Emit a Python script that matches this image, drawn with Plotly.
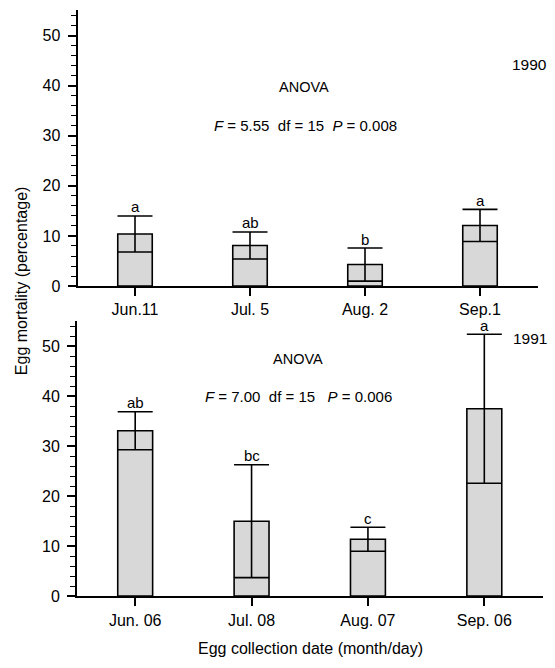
import plotly.graph_objects as go

# ---- data ----
dates_1990 = ["Jun.11", "Jul. 5", "Aug. 2", "Sep.1"]
mean_1990 = [10.4, 8.1, 4.3, 12.1]
se_1990 = [3.6, 2.7, 3.3, 3.2]
letters_1990 = ["a", "ab", "b", "a"]

dates_1991 = ["Jun. 06", "Jul. 08", "Aug. 07", "Sep. 06"]
mean_1991 = [33.1, 15.0, 11.4, 37.5]
se_1991 = [3.8, 11.3, 2.4, 14.9]
letters_1991 = ["ab", "bc", "c", "a"]

y_ticks = [0, 10, 20, 30, 40, 50]

W, H = 555, 668
FONT = "Liberation Sans, Arial, Helvetica, sans-serif"
BAR_FILL = "#d8d8d8"

fig = go.Figure()

def add_panel(cats, means, ses, xa, ya):
    fig.add_trace(go.Bar(
        x=cats, y=means, xaxis=xa, yaxis=ya, width=0.3,
        marker=dict(color=BAR_FILL, line=dict(color="black", width=1.6)),
        error_y=dict(type="data", array=ses, symmetric=True, visible=True,
                     color="black", thickness=1.6, width=17.5),
        showlegend=False, hoverinfo="skip",
    ))

add_panel(dates_1990, mean_1990, se_1990, "x", "y")
add_panel(dates_1991, mean_1991, se_1991, "x2", "y2")

def xaxis_cfg(domain, anchor, cats, standoff):
    return dict(domain=domain, anchor=anchor, type="category",
                categoryorder="array", categoryarray=cats,
                range=[-0.5, 3.5], showline=True, linewidth=2, linecolor="black",
                ticks="outside", ticklen=8, tickwidth=1.5, tickcolor="black",
                showgrid=False, zeroline=False, ticklabelstandoff=standoff,
                tickfont=dict(family=FONT, size=16, color="black"))

def yaxis_cfg(domain, anchor):
    return dict(domain=domain, anchor=anchor, range=[0, 55],
                tickmode="array", tickvals=y_ticks,
                showline=True, linewidth=2, linecolor="black",
                ticks="outside", ticklen=8, tickwidth=1.5, tickcolor="black",
                minor=dict(dtick=2, tick0=0, ticks="outside", ticklen=5,
                           tickwidth=1.2, tickcolor="black", showgrid=False),
                showgrid=False, zeroline=False, ticklabelstandoff=4,
                tickfont=dict(family=FONT, size=16, color="black"))

def px_x(p):
    return p / W

def px_y(p):
    return 1 - p / H

fig.update_layout(
    width=W, height=H, margin=dict(l=0, r=0, t=0, b=0),
    paper_bgcolor="white", plot_bgcolor="rgba(0,0,0,0)",
    font=dict(family=FONT, size=15, color="black"),
    bargap=0.7,
    xaxis=xaxis_cfg([px_x(77.5), px_x(537.5)], "y", dates_1990, 0),
    yaxis=yaxis_cfg([px_y(290), px_y(10.6)], "x"),
    xaxis2=xaxis_cfg([px_x(77), px_x(542.5)], "y2", dates_1991, 1),
    yaxis2=yaxis_cfg([px_y(604.3), px_y(325.7)], "x2"),
)

ann = []
for cats, means, ses, letters, xr, yr in [
    (dates_1990, mean_1990, se_1990, letters_1990, "x", "y"),
    (dates_1991, mean_1991, se_1991, letters_1991, "x2", "y2"),
]:
    for c, m, s, l in zip(cats, means, ses, letters):
        ann.append(dict(x=c, y=m + s, xref=xr, yref=yr, text=l, showarrow=False,
                        yanchor="bottom", yshift=-0.5, borderpad=0,
                        font=dict(size=15)))

NB = "\u00a0"
def paper_text(text, x, y, size=15):
    ann.append(dict(x=px_x(x), y=px_y(y), xref="paper", yref="paper", text=text,
                    showarrow=False, xanchor="center", yanchor="middle",
                    font=dict(size=size)))

paper_text("ANOVA", 304, 88, 14.5)
paper_text(f"<i>F</i> = 5.55{NB}{NB}df = 15{NB}{NB}<i>P</i> = 0.008", 305, 127)
paper_text("1990", 529.5, 65, 15.5)
paper_text("ANOVA", 298, 364, 14.5)
paper_text(f"<i>F</i> = 7.00{NB}{NB}df = 15{NB}{NB}{NB}<i>P</i> = 0.006", 298, 402)
paper_text("1991", 530, 343, 15.5)
paper_text("Egg collection date (month/day)", 310, 657, 16)
ann.append(dict(x=px_x(21), y=px_y(285), xref="paper", yref="paper",
                text="Egg mortality (percentage)", textangle=-90, showarrow=False,
                xanchor="center", yanchor="middle", font=dict(size=16)))

fig.update_layout(annotations=ann)
fig.write_html("out.html")
